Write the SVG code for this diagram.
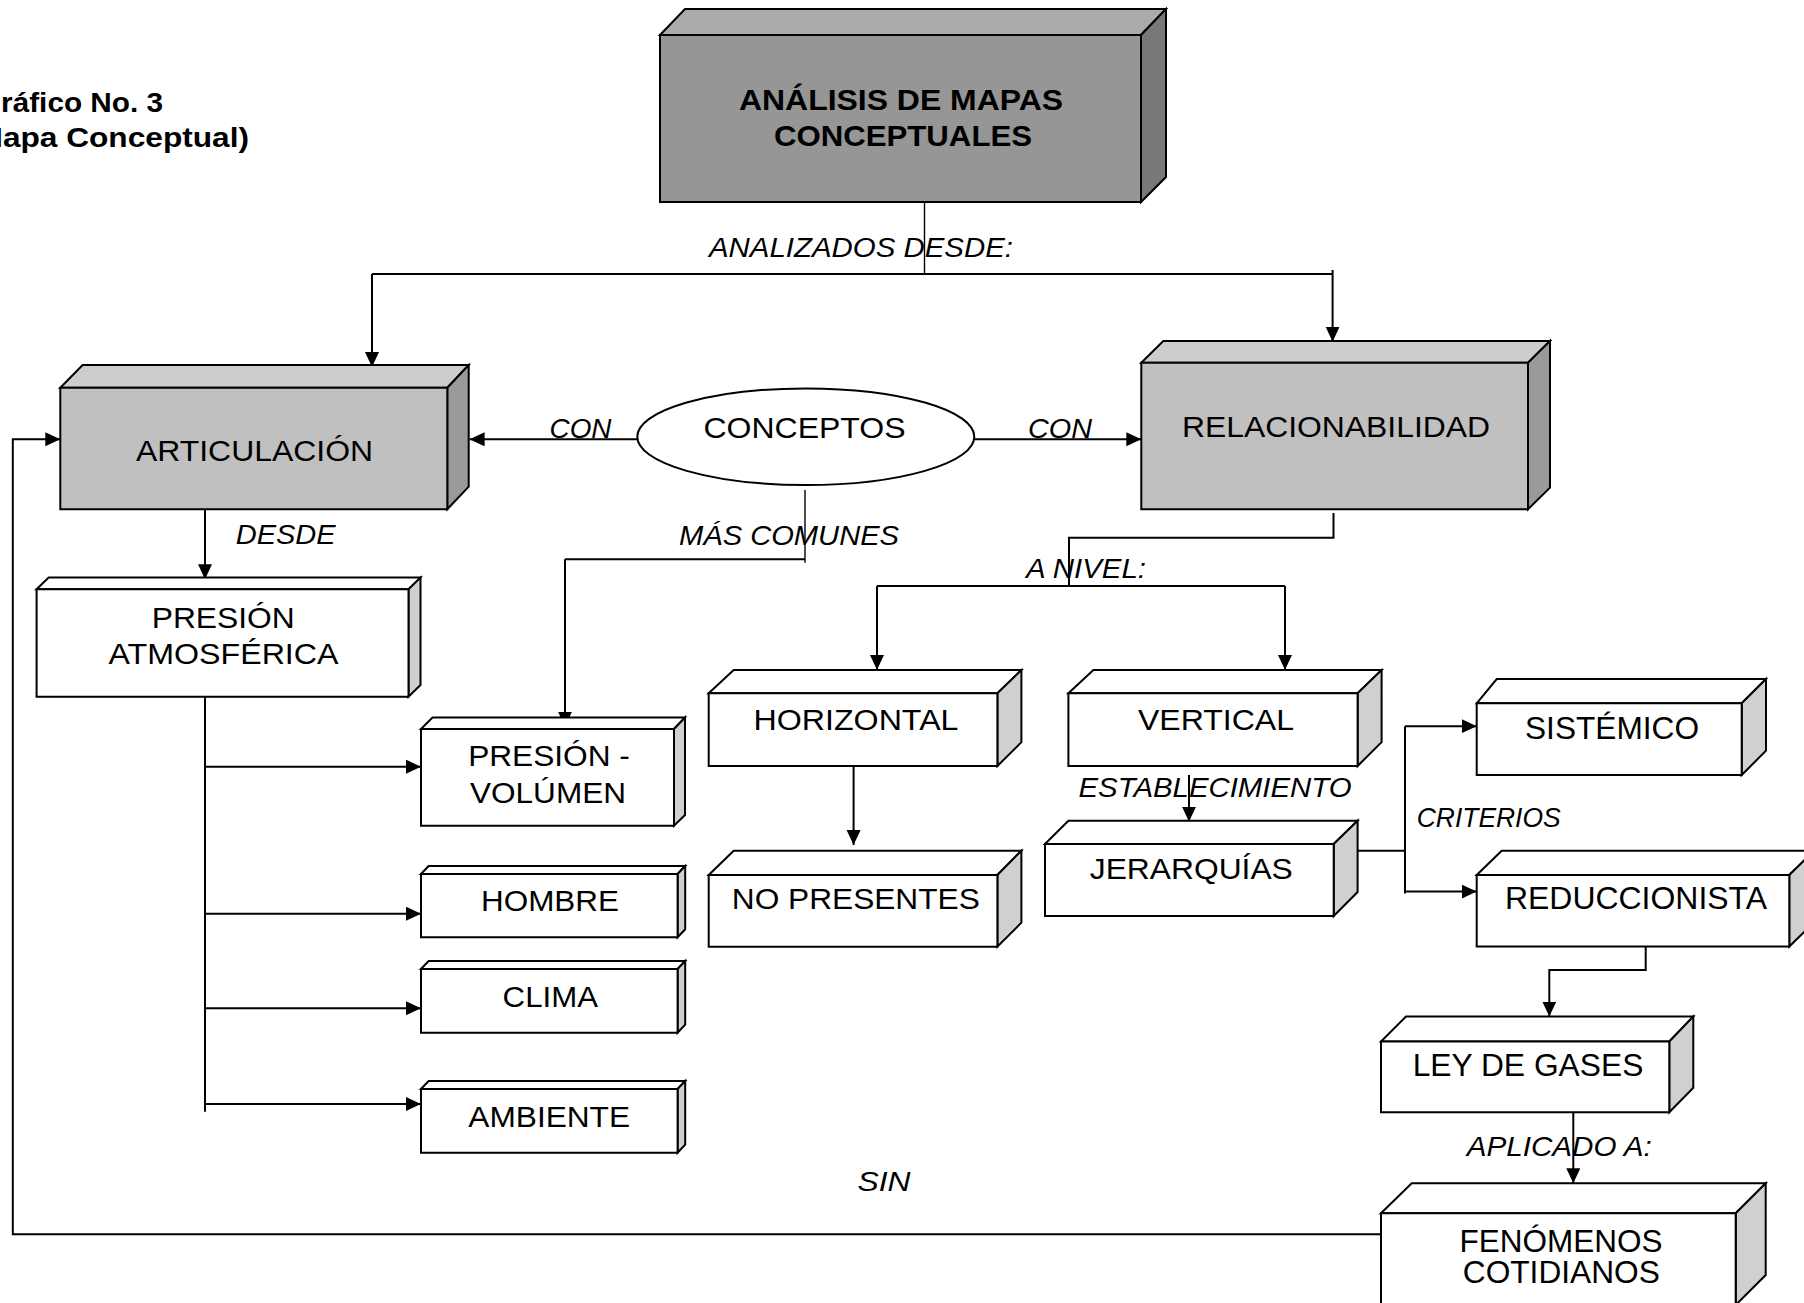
<svg xmlns="http://www.w3.org/2000/svg" width="1804" height="1303" viewBox="0 0 1804 1303">
  <defs>
    <marker id="arrow" markerUnits="userSpaceOnUse" markerWidth="16" markerHeight="15" refX="15" refY="7" orient="auto">
      <path d="M0,0 L15,7 L0,14 Z" fill="#000"/>
    </marker>
    <style>
      text { font-family: "Liberation Sans", Arial, sans-serif; fill: #000; }
      .node { font-size: 30px; text-anchor: middle; }
      .big { font-size: 32px; text-anchor: middle; }
      .bold { font-weight: bold; }
      .lbl { font-size: 28px; font-style: italic; text-anchor: middle; }
      .box polygon { stroke: #000; stroke-width: 2; stroke-linejoin: miter; }
      .dark .front { fill: #969696; } .dark .top { fill: #ababab; } .dark .side { fill: #787878; }
      .mid .front { fill: #c0c0c0; } .mid .top { fill: #cdcdcd; } .mid .side { fill: #9a9a9a; }
      .plain .front { fill: #fff; } .plain .top { fill: #fff; } .plain .side { fill: #d0d0d0; }
      .ell { fill: #fff; stroke: #000; stroke-width: 2; }
      .conn path { fill: none; stroke: #000; stroke-width: 2; }
      .conn path.thin { stroke-width: 1.4; }
      .conn path.arr { marker-end: url(#arrow); }
    </style>
  </defs>
  <rect width="1804" height="1303" fill="#fff"/>

  <!-- heading, partly cut at the left margin -->
  <g id="heading">
    <text x="-22" y="111.7" class="bold" font-size="27" textLength="185" lengthAdjust="spacingAndGlyphs">Gráfico No. 3</text>
    <text x="-34" y="147.3" class="bold" font-size="27" textLength="283" lengthAdjust="spacingAndGlyphs">(Mapa Conceptual)</text>
  </g>

  <!-- connectors -->
  <g id="connectors" class="conn">
    <path class="thin" d="M924.5,202 V274"/>
    <path d="M372,274 H1332.6"/>
    <path class="arr" d="M372,274 V367"/>
    <path class="arr" d="M1332.6,270 V341.7"/>
    <path class="arr" d="M637.5,439.3 H469.6"/>
    <path class="arr" d="M974.3,439.3 H1141.3"/>
    <path class="thin" d="M805,490 V562.7"/>
    <path d="M805,559.3 H565"/>
    <path class="arr" d="M565,559.3 V726.7"/>
    <path class="arr" d="M205,506.7 V579.3"/>
    <path d="M205,693.3 V1111.7"/>
    <path class="arr" d="M205,766.7 H421"/>
    <path class="arr" d="M205,913.7 H421"/>
    <path class="arr" d="M205,1008.3 H421"/>
    <path class="arr" d="M205,1104 H421"/>
    <path d="M1333.5,513 V537.7 H1069 V586"/>
    <path d="M877,586 H1285"/>
    <path class="arr" d="M877,586 V670"/>
    <path class="arr" d="M1285,586 V670"/>
    <path class="arr" d="M853.6,751.7 V845"/>
    <path class="arr" d="M1189,775 V821.7"/>
    <path d="M1357.6,850.7 H1405"/>
    <path d="M1405,726.2 V893.6"/>
    <path class="arr" d="M1405,726.2 H1476.7"/>
    <path class="arr" d="M1405,891.6 H1476.7"/>
    <path class="arr" d="M1645.7,946.5 V969.9 H1549.3 V1016.5"/>
    <path class="arr" d="M1573.3,1110 V1183.3"/>
    <path class="arr" d="M1381,1234.3 H12.8 V439.3 H60.3"/>
  </g>

  <!-- link labels -->
  <g id="labels">
    <text class="lbl" x="861" y="257" textLength="304" lengthAdjust="spacingAndGlyphs">ANALIZADOS DESDE:</text>
    <text class="lbl" x="580.5" y="438" textLength="62" lengthAdjust="spacingAndGlyphs">CON</text>
    <text class="lbl" x="1060" y="438" textLength="64" lengthAdjust="spacingAndGlyphs">CON</text>
    <text class="lbl" x="285.7" y="544.3" textLength="100" lengthAdjust="spacingAndGlyphs">DESDE</text>
    <text class="lbl" x="789" y="545" textLength="220" lengthAdjust="spacingAndGlyphs">MÁS COMUNES</text>
    <text class="lbl" x="1086" y="578.3" textLength="120" lengthAdjust="spacingAndGlyphs">A NIVEL:</text>
    <text class="lbl" x="1215" y="796.7" textLength="273" lengthAdjust="spacingAndGlyphs">ESTABLECIMIENTO</text>
    <text class="lbl" x="1488.7" y="827" font-size="26" textLength="144" lengthAdjust="spacingAndGlyphs">CRITERIOS</text>
    <text class="lbl" x="1559.2" y="1156" font-size="29" textLength="185" lengthAdjust="spacingAndGlyphs">APLICADO A:</text>
    <text class="lbl" x="884" y="1190.7" font-size="30" textLength="53" lengthAdjust="spacingAndGlyphs">SIN</text>
  </g>

  <!-- main concept -->
  <g id="analisis" class="box dark">
    <polygon class="top" points="660,35 685,9 1166,9 1141,35"/>
    <polygon class="side" points="1141,35 1166,9 1166,177 1141,202"/>
    <polygon class="front" points="660,35 1141,35 1141,202 660,202"/>
    <text class="node bold" font-size="28" x="901" y="110" textLength="324" lengthAdjust="spacingAndGlyphs">ANÁLISIS DE MAPAS</text>
    <text class="node bold" font-size="28" x="903" y="146" textLength="258" lengthAdjust="spacingAndGlyphs">CONCEPTUALES</text>
  </g>

  <g id="articulacion" class="box mid">
    <polygon class="top" points="60.3,387.7 82.6,365 468.7,365 447.3,387.7"/>
    <polygon class="side" points="447.3,387.7 468.7,365 468.7,486.7 447.3,509.3"/>
    <polygon class="front" points="60.3,387.7 447.3,387.7 447.3,509.3 60.3,509.3"/>
    <text class="node" x="254.5" y="461" textLength="237" lengthAdjust="spacingAndGlyphs">ARTICULACIÓN</text>
  </g>

  <g id="relacionabilidad" class="box mid">
    <polygon class="top" points="1141.3,362.7 1163.3,341 1550,341 1528,362.7"/>
    <polygon class="side" points="1528,362.7 1550,341 1550,487.6 1528,509.3"/>
    <polygon class="front" points="1141.3,362.7 1528,362.7 1528,509.3 1141.3,509.3"/>
    <text class="node" x="1336" y="437.3" textLength="308" lengthAdjust="spacingAndGlyphs">RELACIONABILIDAD</text>
  </g>

  <g id="conceptos">
    <ellipse class="ell" cx="805.8" cy="436.7" rx="168.5" ry="48.3"/>
    <text class="node" x="804.5" y="438.3" textLength="202" lengthAdjust="spacingAndGlyphs">CONCEPTOS</text>
  </g>

  <g id="presion-atmosferica" class="box plain">
    <polygon class="top" points="36.6,589.3 48.6,577.6 420.5,577.6 408.5,589.3"/>
    <polygon class="side" points="408.5,589.3 420.5,577.6 420.5,685 408.5,696.7"/>
    <polygon class="front" points="36.6,589.3 408.5,589.3 408.5,696.7 36.6,696.7"/>
    <text class="node" x="223.2" y="627.7" textLength="143" lengthAdjust="spacingAndGlyphs">PRESIÓN</text>
    <text class="node" x="223.5" y="664.3" textLength="230" lengthAdjust="spacingAndGlyphs">ATMOSFÉRICA</text>
  </g>

  <g id="presion-volumen" class="box plain">
    <polygon class="top" points="421,729 432.5,717.5 685,717.5 674,729"/>
    <polygon class="side" points="674,729 685,717.5 685,815 674,825.7"/>
    <polygon class="front" points="421,729 674,729 674,825.7 421,825.7"/>
    <text class="node" x="549" y="765.7" textLength="161.7" lengthAdjust="spacingAndGlyphs">PRESIÓN -</text>
    <text class="node" x="548" y="802.7" textLength="156" lengthAdjust="spacingAndGlyphs">VOLÚMEN</text>
  </g>

  <g id="hombre" class="box plain">
    <polygon class="top" points="421,874 428.6,866 685.2,866 677.6,874"/>
    <polygon class="side" points="677.6,874 685.2,866 685.2,929.3 677.6,937.3"/>
    <polygon class="front" points="421,874 677.6,874 677.6,937.3 421,937.3"/>
    <text class="node" x="550" y="911" textLength="138" lengthAdjust="spacingAndGlyphs">HOMBRE</text>
  </g>

  <g id="clima" class="box plain">
    <polygon class="top" points="421,969 428.6,961 685.2,961 677.6,969"/>
    <polygon class="side" points="677.6,969 685.2,961 685.2,1024.7 677.6,1032.7"/>
    <polygon class="front" points="421,969 677.6,969 677.6,1032.7 421,1032.7"/>
    <text class="node" x="550.3" y="1006.7" textLength="95.4" lengthAdjust="spacingAndGlyphs">CLIMA</text>
  </g>

  <g id="ambiente" class="box plain">
    <polygon class="top" points="421,1089 428.6,1081 685.2,1081 677.6,1089"/>
    <polygon class="side" points="677.6,1089 685.2,1081 685.2,1144.7 677.6,1152.7"/>
    <polygon class="front" points="421,1089 677.6,1089 677.6,1152.7 421,1152.7"/>
    <text class="node" x="549.2" y="1126.7" textLength="161.7" lengthAdjust="spacingAndGlyphs">AMBIENTE</text>
  </g>

  <g id="horizontal" class="box plain">
    <polygon class="top" points="708.7,693.3 733.7,670 1021.4,670 997.4,693.3"/>
    <polygon class="side" points="997.4,693.3 1021.4,670 1021.4,742.2 997.4,766"/>
    <polygon class="front" points="708.7,693.3 997.4,693.3 997.4,766 708.7,766"/>
    <text class="node" x="856" y="730" textLength="205" lengthAdjust="spacingAndGlyphs">HORIZONTAL</text>
  </g>

  <g id="vertical" class="box plain">
    <polygon class="top" points="1068.4,693.3 1093.4,670 1381.6,670 1357.6,693.3"/>
    <polygon class="side" points="1357.6,693.3 1381.6,670 1381.6,742.2 1357.6,766"/>
    <polygon class="front" points="1068.4,693.3 1357.6,693.3 1357.6,766 1068.4,766"/>
    <text class="node" x="1216" y="730" textLength="156" lengthAdjust="spacingAndGlyphs">VERTICAL</text>
  </g>

  <g id="no-presentes" class="box plain">
    <polygon class="top" points="708.7,875 733.7,850.7 1021.4,850.7 997.4,875"/>
    <polygon class="side" points="997.4,875 1021.4,850.7 1021.4,922.7 997.4,946.7"/>
    <polygon class="front" points="708.7,875 997.4,875 997.4,946.7 708.7,946.7"/>
    <text class="node" x="855.8" y="909.3" textLength="248" lengthAdjust="spacingAndGlyphs">NO PRESENTES</text>
  </g>

  <g id="jerarquias" class="box plain">
    <polygon class="top" points="1045,844 1068.4,820.7 1357.6,820.7 1333.7,844"/>
    <polygon class="side" points="1333.7,844 1357.6,820.7 1357.6,892 1333.7,916"/>
    <polygon class="front" points="1045,844 1333.7,844 1333.7,916 1045,916"/>
    <text class="node" x="1191.3" y="879.3" textLength="203" lengthAdjust="spacingAndGlyphs">JERARQUÍAS</text>
  </g>

  <g id="sistemico" class="box plain">
    <polygon class="top" points="1476.7,703.3 1496.7,679 1766,679 1741.7,703.3"/>
    <polygon class="side" points="1741.7,703.3 1766,679 1766,750.7 1741.7,775"/>
    <polygon class="front" points="1476.7,703.3 1741.7,703.3 1741.7,775 1476.7,775"/>
    <text class="big" x="1612" y="738.7" textLength="174" lengthAdjust="spacingAndGlyphs">SISTÉMICO</text>
  </g>

  <g id="reduccionista" class="box plain">
    <polygon class="top" points="1476.7,875 1501.7,850.7 1814,850.7 1789.3,875"/>
    <polygon class="side" points="1789.3,875 1814,850.7 1814,922.2 1789.3,946.5"/>
    <polygon class="front" points="1476.7,875 1789.3,875 1789.3,946.5 1476.7,946.5"/>
    <text class="big" x="1636" y="909" textLength="262" lengthAdjust="spacingAndGlyphs">REDUCCIONISTA</text>
  </g>

  <g id="ley-de-gases" class="box plain">
    <polygon class="top" points="1381,1041.5 1406,1016.5 1693.3,1016.5 1669.3,1041.5"/>
    <polygon class="side" points="1669.3,1041.5 1693.3,1016.5 1693.3,1087.8 1669.3,1112.3"/>
    <polygon class="front" points="1381,1041.5 1669.3,1041.5 1669.3,1112.3 1381,1112.3"/>
    <text class="big" x="1528" y="1075.7" textLength="230.7" lengthAdjust="spacingAndGlyphs">LEY DE GASES</text>
  </g>

  <g id="fenomenos" class="box plain">
    <polygon class="top" points="1381,1213.3 1411.7,1183.3 1765.7,1183.3 1735.7,1213.3"/>
    <polygon class="side" points="1735.7,1213.3 1765.7,1183.3 1765.7,1275 1735.7,1305"/>
    <polygon class="front" points="1381,1213.3 1735.7,1213.3 1735.7,1310 1381,1310"/>
    <text class="big" x="1561" y="1251.7" textLength="203" lengthAdjust="spacingAndGlyphs">FENÓMENOS</text>
    <text class="big" x="1561.3" y="1283.3" textLength="197" lengthAdjust="spacingAndGlyphs">COTIDIANOS</text>
  </g>
</svg>
